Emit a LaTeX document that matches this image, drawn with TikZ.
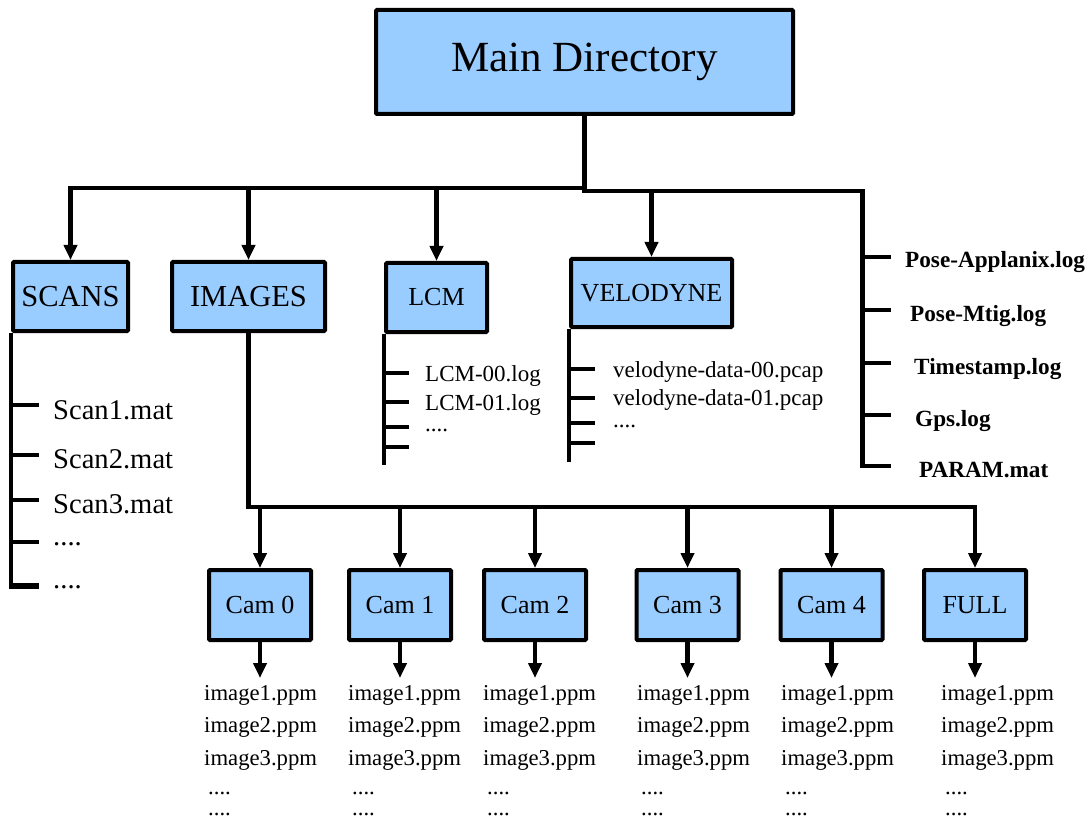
\documentclass[tikz,border=0pt]{standalone}
\usepackage{fontspec}
\setmainfont{Liberation Serif}
\usetikzlibrary{arrows.meta}
\definecolor{folderblue}{RGB}{153,204,255}
\newcommand\fourdots{....}

\tikzset{
  folder/.style={draw, line width=4pt, fill=folderblue, rounded corners=1pt, inner sep=0pt},
  link/.style={line width=4.5pt},
  linkarrow/.style={line width=4.5pt, -{Triangle[width=13pt,length=15pt]}},
  topfont/.style={font=\fontsize{43}{50}\selectfont},
  bigfont/.style={font=\fontsize{30.5}{36}\selectfont},
  boxfont/.style={font=\fontsize{26}{30}\selectfont},
  scanname/.style={anchor=base west, inner sep=0pt, font=\fontsize{28.6}{33}\selectfont},
  logname/.style={anchor=base west, inner sep=0pt, font=\fontsize{23}{27}\selectfont},
  imgname/.style={anchor=base west, inner sep=0pt, font=\fontsize{22.7}{27}\selectfont},
  boldname/.style={anchor=base west, inner sep=0pt, font=\fontsize{23.2}{27}\selectfont\bfseries},
}

\begin{document}
\begin{tikzpicture}[x=1pt, y=-1pt, line join=miter]
    \useasboundingbox (0,0) rectangle (1089,818);

    % Folders
    \node[folder, topfont, minimum width=417pt, minimum height=104pt] (main) at (584.5,62) {Main Directory};
    \node[folder, bigfont, minimum width=115pt, minimum height=69pt] (scans) at (70.5,296.5) {SCANS};
    \node[folder, bigfont, minimum width=153pt, minimum height=69pt] (images) at (248.5,296.5) {IMAGES};
    \node[folder, boxfont, minimum width=101pt, minimum height=69pt] (lcm) at (436.5,297.5) {LCM};
    \node[folder, boxfont, minimum width=161pt, minimum height=68pt] (velodyne) at (651.5,293) {VELODYNE};

    % Top level bus
    \path (main.south) ++(0,72) coordinate (busL);
    \draw[linkarrow] (busL) -| (scans.north);
    \draw[link] (main.south) -- ++(0,75) coordinate (busR) -- ++(278,0) coordinate (rtop) |- ++(28,275) coordinate (rend);
    \foreach \f in {images, lcm}
        \draw[linkarrow] (\f.north |- busL) -- (\f.north);
    \draw[linkarrow] (velodyne.north |- busR) -- (velodyne.north);

    % Log files in main directory
    \foreach \t/\y/\x [count=\k] in {Pose-Applanix.log/257/905, Pose-Mtig.log/310/910, Timestamp.log/363/914, Gps.log/415/915, PARAM.mat/466/919} {
        \draw[link] (rtop |- 0,\y) -- ++(28,0);
        \node[boldname] (log\k) at (\x,\y+11) {\t};
    }

    % Scan files
    \draw[link] (scans.south west) |- ++(28,254);
    \foreach \y/\b/\t [count=\k] in {405/419/Scan1.mat, 455/468/Scan2.mat, 500/513/Scan3.mat, 542/545/\fourdots, 585/588/\fourdots} {
        \draw[link] (scans.south west |- 0,\y) -- ++(28,0);
        \node[scanname] (scan\k) at (53,\b) {\t};
    }

    % LCM files
    \draw[link] (lcm.south west) -- ++(0,131);
    \foreach \y in {373, 402, 427, 447}
        \draw[link] (lcm.south west |- 0,\y) -- ++(25,0);
    \foreach \b/\t [count=\k] in {381/LCM-00.log, 410/LCM-01.log, 431/\fourdots}
        \node[logname] (lcm\k) at (425,\b) {\t};

    % Velodyne files
    \draw[link] (velodyne.south west) -- ++(0,133);
    \foreach \y in {369, 398, 423, 443}
        \draw[link] (velodyne.south west |- 0,\y) -- ++(26,0);
    \foreach \b/\t [count=\k] in {377/velodyne-data-00.pcap, 405/velodyne-data-01.pcap, 427/\fourdots}
        \node[logname] (vel\k) at (613,\b) {\t};

    % Camera folders and their images
    \foreach \n/\x/\t/\lx in {cam0/260/Cam 0/204, cam1/400/Cam 1/348, cam2/535/Cam 2/483, cam3/687.5/Cam 3/637, cam4/831.5/Cam 4/781, full/975/FULL/941} {
        \node[folder, boxfont, minimum width=102pt, minimum height=70pt] (\n) at (\x,605) {\t};
        \draw[linkarrow] (\n.south) -- ++(0,36);
        \foreach \b/\f [count=\k] in {700/image1.ppm, 732/image2.ppm, 765/image3.ppm}
            \node[imgname] (\n f\k) at (\lx,\b) {\f};
        \node[imgname] (\n d1) at (\lx+4,794) {\fourdots};
        \node[imgname] (\n d2) at (\lx+4,815) {\fourdots};
    }

    % Image bus
    \draw[linkarrow] (images.south) -- ++(0,174) coordinate (camBus) -| (full.north);
    \foreach \n in {cam0, cam1, cam2, cam3, cam4}
        \draw[linkarrow] (\n.north |- camBus) -- (\n.north);
\end{tikzpicture}
\end{document}
